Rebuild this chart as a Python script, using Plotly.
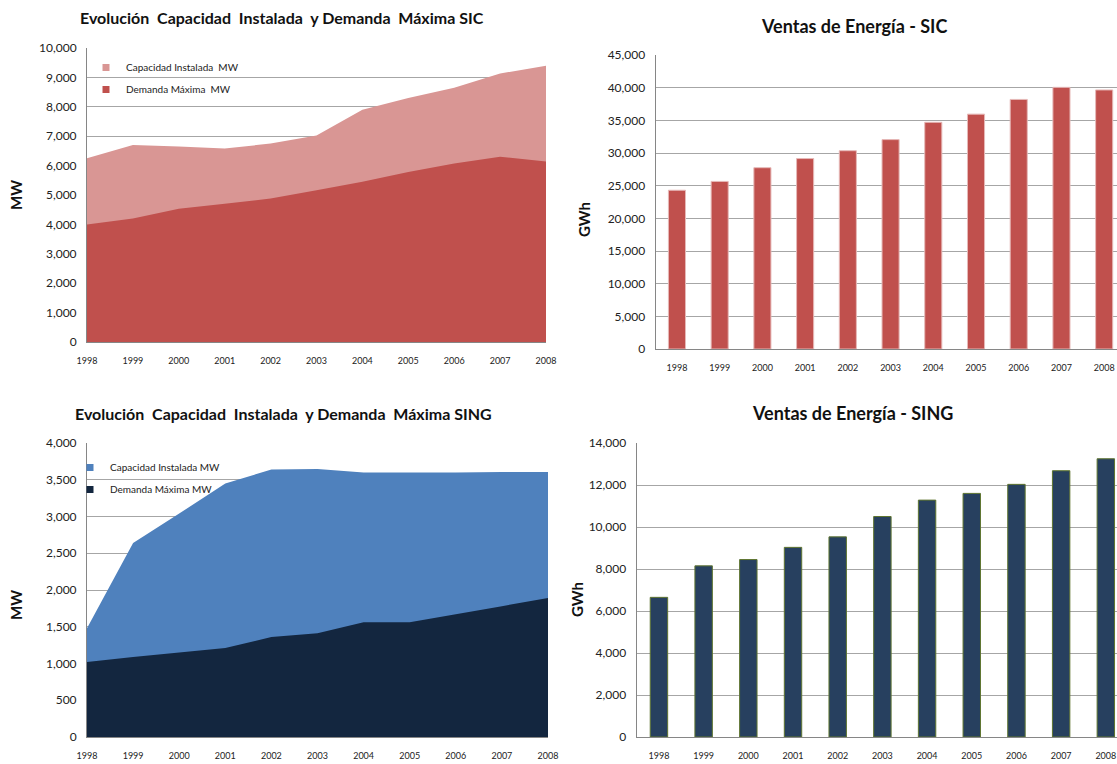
import plotly.graph_objects as go

years = [1998, 1999, 2000, 2001, 2002, 2003, 2004, 2005, 2006, 2007, 2008]
year_labels = [str(y) for y in years]

sic_capacidad = [6250, 6700, 6650, 6580, 6750, 7020, 7900, 8300, 8650, 9130, 9400]
sic_demanda = [4000, 4200, 4530, 4700, 4880, 5160, 5450, 5780, 6070, 6300, 6140]
sic_ventas = [24300, 25650, 27750, 29150, 30350, 32050, 34700, 35950, 38200, 40050, 39650]

sing_capacidad = [1480, 2640, 3040, 3450, 3640, 3645, 3600, 3600, 3600, 3605, 3605]
sing_demanda = [1020, 1090, 1150, 1210, 1360, 1410, 1560, 1560, 1670, 1780, 1890]
sing_ventas = [6650, 8150, 8450, 9030, 9530, 10500, 11280, 11600, 12030, 12680, 13250]

W, H = 1117, 764
FONT = "Lato"
GRID = "#A6A6A6"
AXL = "#868686"


def px(x):
    return x / W


def py(y):
    return 1 - y / H


fig = go.Figure()

# Top-left: SIC capacity & demand (overlapping areas)
fig.add_trace(go.Scatter(x=years, y=sic_capacidad, fill="tozeroy", mode="none", fillcolor="#D99694",
                         xaxis="x", yaxis="y", showlegend=False))
fig.add_trace(go.Scatter(x=years, y=sic_demanda, fill="tozeroy", mode="none", fillcolor="#C0504D",
                         xaxis="x", yaxis="y", showlegend=False))
# legend entries (square swatches)
fig.add_trace(go.Scatter(x=[None], y=[None], mode="markers", name="Capacidad Instalada  MW",
                         marker=dict(symbol="square", size=7, color="#D99694"),
                         xaxis="x", yaxis="y", legend="legend", legendgroup="a"))
fig.add_trace(go.Scatter(x=[None], y=[None], mode="markers", name="Demanda Máxima  MW",
                         marker=dict(symbol="square", size=7, color="#C0504D"),
                         xaxis="x", yaxis="y", legend="legend", legendgroup="b"))

# Top-right: SIC sales
fig.add_trace(go.Bar(x=year_labels, y=sic_ventas, marker=dict(color="#C0504D", line=dict(color="#E6B9B8", width=1)),
                     width=0.4, xaxis="x2", yaxis="y2", showlegend=False))

# Bottom-left: SING capacity & demand
fig.add_trace(go.Scatter(x=years, y=sing_capacidad, fill="tozeroy", mode="none", fillcolor="#4F81BD",
                         xaxis="x3", yaxis="y3", showlegend=False))
fig.add_trace(go.Scatter(x=years, y=sing_demanda, fill="tozeroy", mode="none", fillcolor="#13263F",
                         xaxis="x3", yaxis="y3", showlegend=False))
fig.add_trace(go.Scatter(x=[None], y=[None], mode="markers", name="Capacidad Instalada MW",
                         marker=dict(symbol="square", size=7, color="#4F81BD"),
                         xaxis="x3", yaxis="y3", legend="legend2", legendgroup="c"))
fig.add_trace(go.Scatter(x=[None], y=[None], mode="markers", name="Demanda Máxima MW",
                         marker=dict(symbol="square", size=7, color="#13263F"),
                         xaxis="x3", yaxis="y3", legend="legend2", legendgroup="d"))

# Bottom-right: SING sales
fig.add_trace(go.Bar(x=year_labels, y=sing_ventas, marker=dict(color="#27405F", line=dict(color="#5F7530", width=1)),
                     width=0.39, xaxis="x4", yaxis="y4", showlegend=False))

xt = dict(tickfont=dict(family=FONT, size=9, color="#222"), showgrid=False, showline=True,
          linecolor=AXL, linewidth=1, ticks="", ticklabelstandoff=10, zeroline=False, fixedrange=True)
yt = dict(tickfont=dict(family=FONT, size=12, color="#222"), showgrid=True, gridcolor=GRID, gridwidth=1,
          showline=True, linecolor=AXL, linewidth=1, ticks="", ticklabelstandoff=7, zeroline=False,
          tickformat=",d", fixedrange=True)

leg = dict(xanchor="left", yanchor="top", bgcolor="rgba(0,0,0,0)", traceorder="grouped",
           font=dict(family=FONT, size=10, color="#222"), tracegroupgap=3, itemwidth=30)

fig.update_layout(
    width=W, height=H,
    margin=dict(l=0, r=0, t=0, b=0, autoexpand=False),
    paper_bgcolor="white", plot_bgcolor="white",
    font=dict(family=FONT, color="#222"),
    xaxis=dict(xt, domain=[px(87), px(546)], range=[1998, 2008], tickvals=years, anchor="y"),
    yaxis=dict(yt, domain=[py(342), py(48)], range=[0, 10000], dtick=1000, anchor="x"),
    xaxis2=dict(xt, domain=[px(655.6), 1.0], range=[-0.5, 10.3], type="category", anchor="y2"),
    yaxis2=dict(yt, domain=[py(349), py(55)], range=[0, 45000], dtick=5000, anchor="x2"),
    xaxis3=dict(xt, domain=[px(87), px(548)], range=[1998, 2008], tickvals=years, anchor="y3"),
    yaxis3=dict(yt, domain=[py(737), py(443)], range=[0, 4000], dtick=500, anchor="x3"),
    xaxis4=dict(xt, domain=[px(636.6), 1.0], range=[-0.5, 10.25], type="category", anchor="y4"),
    yaxis4=dict(yt, domain=[py(737), py(443)], range=[0, 14000], dtick=2000, anchor="x4"),
    legend=dict(leg, x=px(86), y=py(53)),
    legend2=dict(leg, x=px(70), y=py(453)),
    showlegend=True,
)

titles = [
    ("Evolución  Capacidad  Instalada  y Demanda  Máxima SIC", 282, 18, 16),
    ("Ventas de Energía - SIC", 854, 26, 18),
    ("Evolución  Capacidad  Instalada  y Demanda  Máxima SING", 283, 413, 16),
    ("Ventas de Energía - SING", 852, 413, 18),
]
for text, x, y, s in titles:
    fig.add_annotation(text=f"<b>{text}</b>", x=px(x), y=py(y), xref="paper", yref="paper",
                       showarrow=False, xanchor="center", yanchor="middle",
                       font=dict(family=FONT, size=s, color="#111"))

ytitles = [("MW", 16, 195), ("GWh", 584, 220), ("MW", 16, 605), ("GWh", 577, 600)]
for text, x, y in ytitles:
    fig.add_annotation(text=f"<b>{text}</b>", x=px(x), y=py(y), xref="paper", yref="paper",
                       showarrow=False, xanchor="center", yanchor="middle", textangle=-90,
                       font=dict(family=FONT, size=15, color="#111"))

fig.write_html(
    "out.html",
    config={"displayModeBar": False},
    post_script="document.body.style.margin='0';document.documentElement.style.overflow='hidden';",
)
